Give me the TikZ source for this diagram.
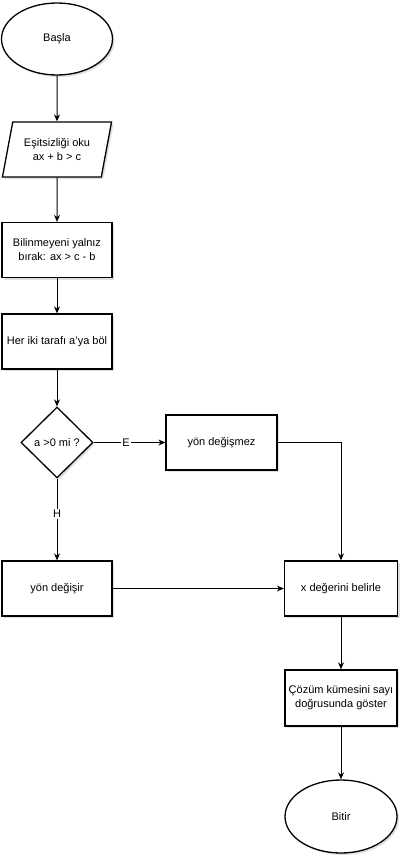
\documentclass[tikz,border=0pt]{standalone}
\usepackage{fontspec}
\setmainfont{Liberation Sans}
\usetikzlibrary{shapes.geometric,arrows.meta,shadows}
\begin{document}
\begin{tikzpicture}[x=1pt,y=-1pt,
  every node/.style={font=\fontsize{11}{14}\selectfont, align=center, inner sep=0pt},
  sh/.style={drop shadow={shadow xshift=2pt, shadow yshift=-2pt, opacity=0.25}},
  boxnode/.style={draw, line width=1.3pt, fill=white, sh, minimum width=110pt, minimum height=55pt},
  term/.style={draw, line width=1.3pt, fill=white, sh, ellipse, minimum width=111pt, minimum height=72pt},
  io/.style={draw, line width=1.3pt, fill=white, sh, trapezium, trapezium left angle=71, trapezium right angle=109, trapezium stretches=true, minimum width=110pt, minimum height=55pt},
  dia/.style={draw, line width=1.3pt, fill=white, sh, diamond, minimum width=72pt, minimum height=71pt},
  conn/.style={draw, line width=1pt, -{Stealth[length=7pt,width=6pt]}},
  lbl/.style={fill=white, inner sep=1pt}
]
\useasboundingbox (0,0) rectangle (400,861);
\node[term] (start) at (57,39) {Başla};
\node[io] (read) at (57,149.5) {Eşitsizliği oku\\ax + b > c};
\node[boxnode] (isolate) at (57,250) {Bilinmeyeni yalnız\\bırak: ax > c - b};
\node[boxnode] (divide) at (57,341.5) {Her iki tarafı a’ya böl};
\node[dia] (dec) at (57,442.5) {a >0 mi ?};
\node[boxnode, minimum width=111pt] (nochange) at (221.5,442.5) {yön değişmez};
\node[boxnode] (change) at (57,588.5) {yön değişir};
\node[boxnode, minimum width=113pt] (result) at (341,588.5) {x değerini belirle};
\node[boxnode, minimum width=112pt, minimum height=56pt] (show) at (341,698) {Çözüm kümesini sayı\\doğrusunda göster};
\node[term, minimum width=112pt, minimum height=73pt] (end) at (341,816.5) {Bitir};

\draw[conn] (start) -- (read);
\draw[conn] (read) -- (isolate);
\draw[conn] (isolate) -- (divide);
\draw[conn] (divide) -- (dec);
\draw[conn] (dec) -- node[lbl, pos=0.45] {E} (nochange);
\draw[conn] (dec) -- node[lbl, pos=0.43] {H} (change);
\draw[conn] (nochange.east) -| (result.north);
\draw[conn] (change) -- (result);
\draw[conn] (result) -- (show);
\draw[conn] (show) -- (end);
\end{tikzpicture}
\end{document}
